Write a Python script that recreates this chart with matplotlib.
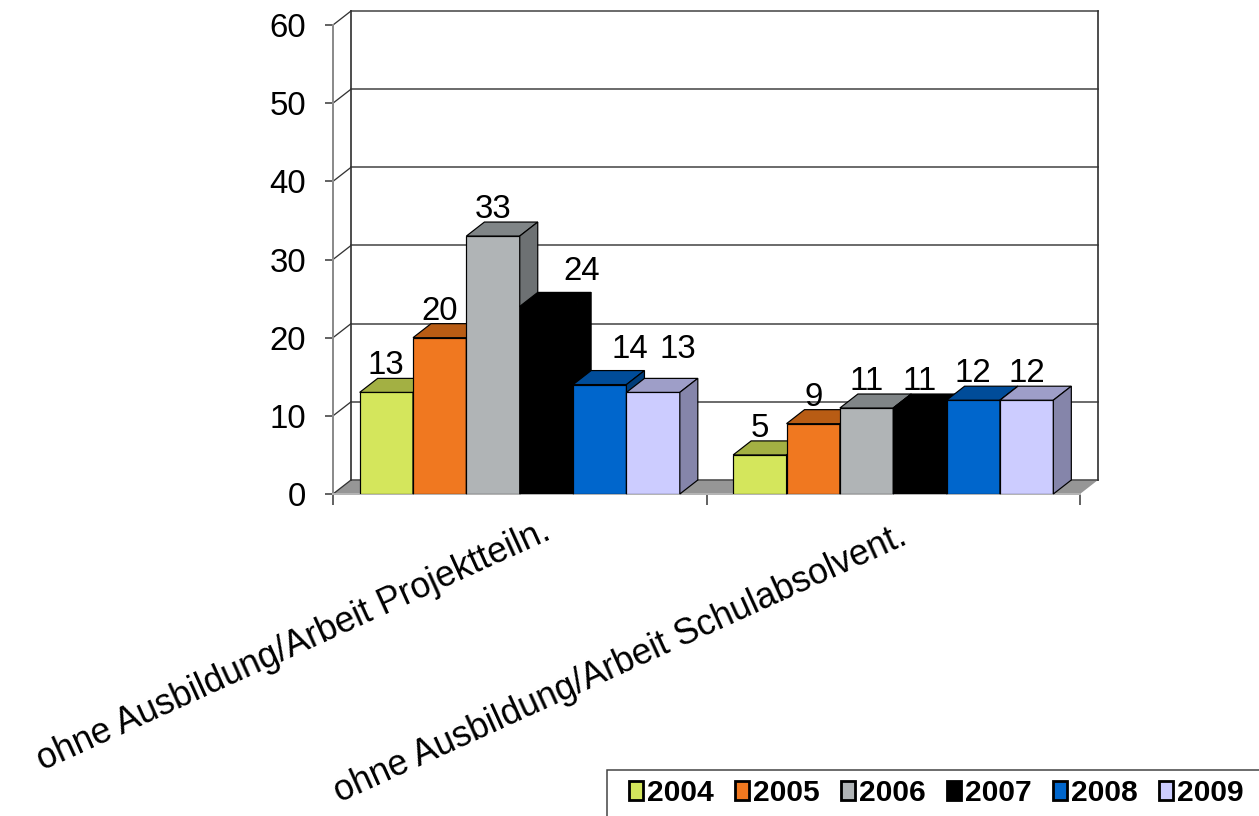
#!/usr/bin/env python3
#
# Grouped pseudo-3D column chart, six years per group.
#

import numpy as np
import matplotlib
matplotlib.use('Agg')
import matplotlib.pyplot as plt
from matplotlib.patches import Polygon, Patch, Rectangle
import matplotlib.transforms as mtransforms

plt.rcParams['font.family'] = 'Liberation Sans'

##########
## DATA ##
##########

categories = ['ohne Ausbildung/Arbeit Projektteiln.',
              'ohne Ausbildung/Arbeit Schulabsolvent.']
years = ['2004', '2005', '2006', '2007', '2008', '2009']
vals_2004 = [13, 5]
vals_2005 = [20, 9]
vals_2006 = [33, 11]
vals_2007 = [24, 11]
vals_2008 = [14, 12]
vals_2009 = [13, 12]
series = [vals_2004, vals_2005, vals_2006, vals_2007, vals_2008, vals_2009]

## Style:
col_front = ['#d4e65c', '#f07820', '#b0b4b6', '#000000', '#0066cc', '#ccccff']
col_top = ['#a3b043', '#b85c14', '#808587', '#000000', '#004c99', '#9e9ec8']
col_side = ['#8a9538', '#9a4c10', '#6d7173', '#000000', '#003d7a', '#8585aa']
# label nudges (points) where labels were moved apart
lab_shift = [[(0, 0), (0, 0), (0, 0), (35, 8), (30, 9), (25, 16)],
             [(0, 0)] * 6]
cat_shift = [(22, -8), (4, -13)]
fs_tick = 33
fs_cat = 35.5
fs_leg = 30
dpi = 72

##############
## Plotting ##
##############

W, H = 1259, 816
fig = plt.figure(figsize=(W / dpi, H / dpi), dpi=dpi)
ax = fig.add_axes([333 / W, 1 - 494 / H, 747 / W, 469 / H])
ax.set_xlim(0, 2)
ax.set_ylim(0, 60)
ax.set_facecolor('none')

# depth of the box in data units
ddx = 18 / 747 * 2
ddy = 14 / 469 * 60

def poly(pts, fc, ec='none', lw=1.0, z=1):
	p = Polygon(pts, closed=True, facecolor=fc, edgecolor=ec, linewidth=lw,
	            zorder=z, clip_on=False, joinstyle='miter')
	ax.add_patch(p)
	return p

# floor
poly([(0, 0), (2, 0), (2 + ddx, ddy), (ddx, ddy)], '#969696', z=1)

# back wall gridlines and side-wall diagonals
for v in range(0, 61, 10):
	ax.plot([ddx, 2 + ddx], [v + ddy, v + ddy], color='#555555', lw=1.7,
	        clip_on=False, zorder=1.5)
	ax.plot([0, ddx], [v, v + ddy], color='#333333', lw=1.3, clip_on=False, zorder=1.5)
for xw in (ddx, 2 + ddx):
	ax.plot([xw, xw], [ddy, 60 + ddy], color='#333333', lw=1.7, clip_on=False, zorder=1.5)

# bars
w = 1.0 / 7
for i, vals in enumerate(series):
	x0 = np.arange(len(vals)) + w / 2 + i * w
	z = 3 + i
	ax.bar(x0, vals, width=w, align='edge', color=col_front[i],
	       edgecolor='black', linewidth=1.2, zorder=z)
	for g, h in enumerate(vals):
		xa = x0[g]
		poly([(xa, h), (xa + w, h), (xa + w + ddx, h + ddy), (xa + ddx, h + ddy)],
		     col_top[i], 'black', 1.2, z)
		poly([(xa + w, 0), (xa + w + ddx, ddy), (xa + w + ddx, h + ddy), (xa + w, h)],
		     col_side[i], 'black', 1.2, z)
		sx, sy = lab_shift[g][i]
		ax.annotate(str(h), xy=(xa + w / 2, h + ddy), xytext=(sx, 4 + sy),
		            textcoords='offset points', ha='center', va='baseline',
		            fontsize=fs_tick, zorder=20, annotation_clip=False)

# axes lines and ticks
for s in ('top', 'right'):
	ax.spines[s].set_visible(False)
ax.spines['left'].set_color('#8c8c8c')
ax.spines['left'].set_linewidth(2)
ax.spines['left'].set_zorder(2)
ax.spines['bottom'].set_color('#b4b4b4')
ax.spines['bottom'].set_linewidth(2)
ax.spines['bottom'].set_zorder(2)

ax.set_yticks(range(0, 61, 10))
ax.tick_params(axis='y', length=8, width=1.5, color='#333333', pad=19,
               labelsize=fs_tick)
ax.set_xticks([0, 1, 2], minor=True)
ax.tick_params(axis='x', which='minor', length=11, width=1.5, color='#333333')
ax.set_xticks([0.5, 1.5])
ax.set_xticklabels(categories, rotation=24.5, ha='right', va='top',
                   rotation_mode='anchor', fontsize=fs_cat)
ax.tick_params(axis='x', which='major', length=0, pad=12)
for lbl, (sx, sy) in zip(ax.get_xticklabels(), cat_shift):
	offs = mtransforms.ScaledTranslation(sx / dpi, sy / dpi, fig.dpi_scale_trans)
	lbl.set_transform(lbl.get_transform() + offs)

# legend box running off the lower right corner
fig.patches.append(Rectangle((607 / W, -0.1), 0.6, 0.1 + (H - 770) / H,
                             transform=fig.transFigure, facecolor='white',
                             edgecolor='#404040', linewidth=1.5, zorder=0))
handles = [Patch(facecolor=c, edgecolor='black', linewidth=2.8) for c in col_front]
fig.legend(handles, years, loc='center left', bbox_to_anchor=(629 / W, 1 - 793 / H),
           ncol=6, frameon=False, prop=dict(weight='bold', size=fs_leg),
           handlelength=0.47, handleheight=0.57, handletextpad=0.13,
           columnspacing=0.71, borderpad=0, borderaxespad=0)

fig.savefig('out.png', dpi=dpi)
